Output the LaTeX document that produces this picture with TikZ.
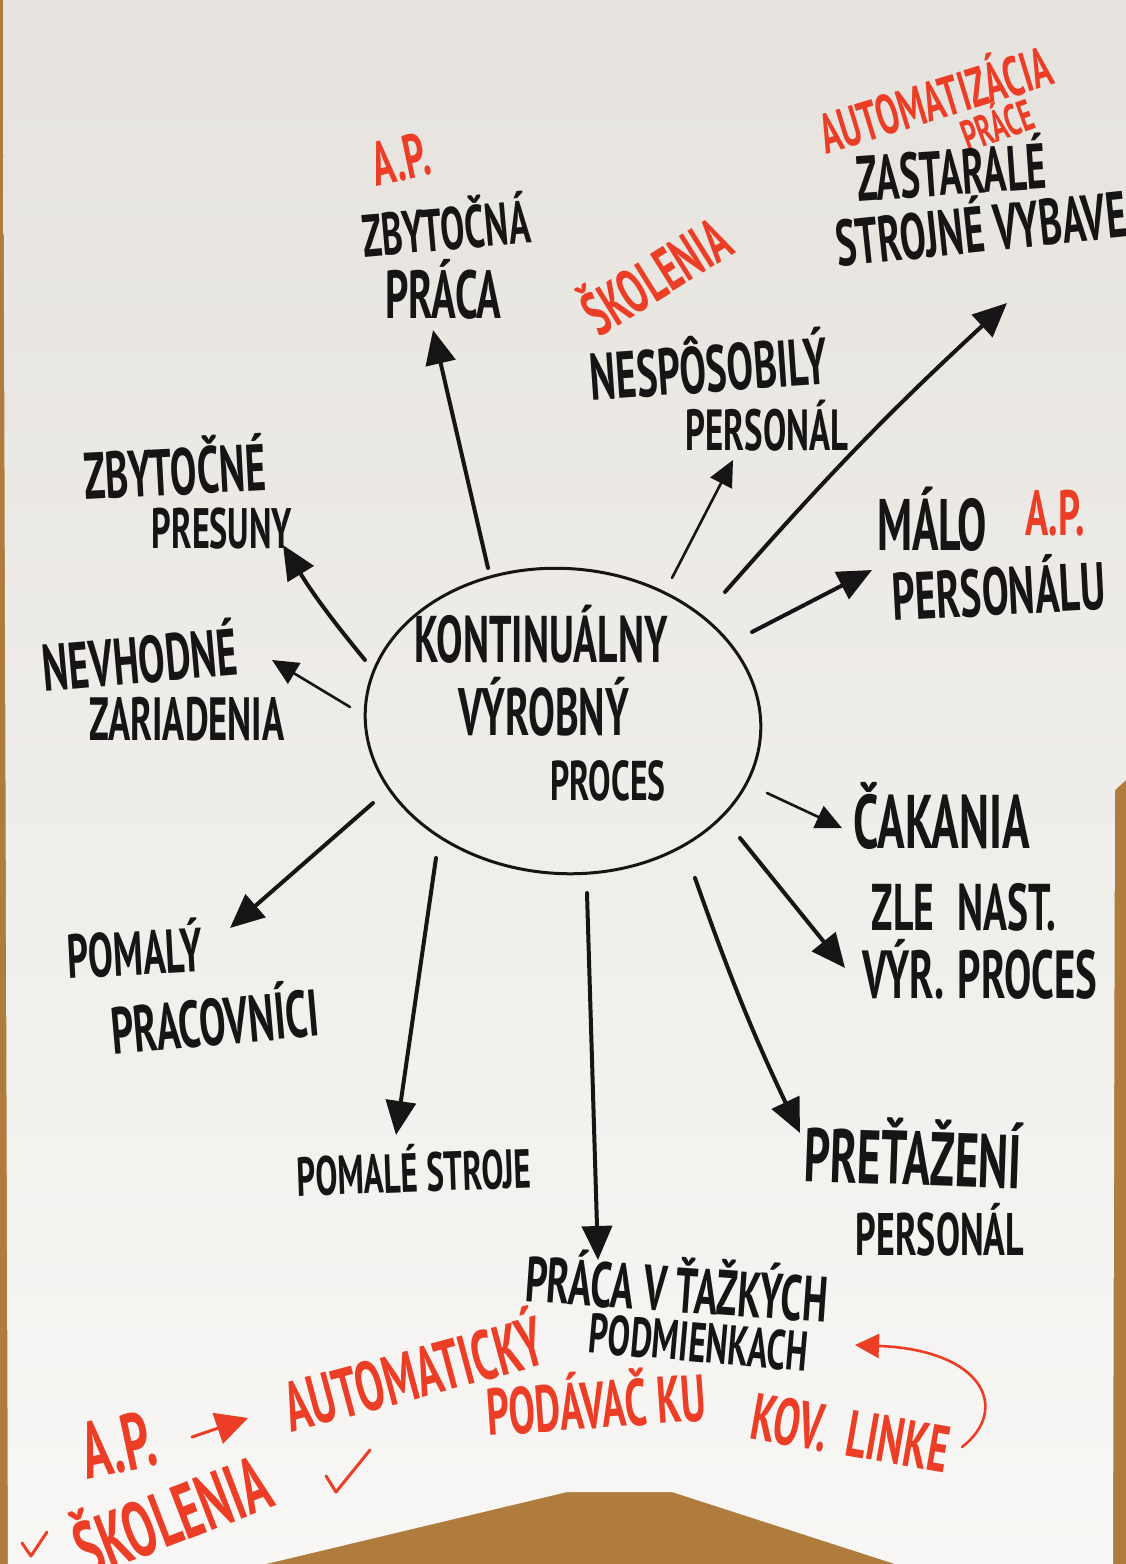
\documentclass[tikz,border=0pt]{standalone}
\usepackage{fontspec}
\newfontfamily\hand[FakeStretch=0.6]{PT Sans}
\usetikzlibrary{arrows.meta,shapes.geometric}
\definecolor{ink}{RGB}{22,20,20}
\definecolor{redink}{RGB}{236,62,38}
\definecolor{wood}{RGB}{176,124,62}
\definecolor{papertop}{RGB}{230,227,222}
\definecolor{paperbot}{RGB}{248,247,245}
\newcommand\fsz[1]{\fontsize{#1}{#1}\selectfont}
\tikzset{
  lbl/.style={inner sep=0pt, anchor=base, text=ink, font=\hand\bfseries\fsz{#1}},
  lbl/.default=62,
  rlbl/.style={lbl=#1, text=redink},
  rlbl/.default=62,
  arr/.style={draw=ink, line width=4pt, line cap=round, -{Triangle[length=34pt,width=30pt]}},
  thinarr/.style={draw=ink, line width=2.6pt, line cap=round, -{Triangle[length=26pt,width=24pt]}},
  redarr/.style={draw=redink, line width=3pt, line cap=round, -{Triangle[length=24pt,width=24pt]}},
}
\begin{document}
\begin{tikzpicture}[x=1pt,y=-1pt]
\useasboundingbox (0,0) rectangle (1126,1564);
% background: wood and paper
\fill[wood] (0,0) rectangle (1126,1564);
\shade[top color=papertop, bottom color=paperbot]
  (3,0) -- (1126,0) -- (1126,780) -- (1115,790) -- (1113,1564) -- (895,1564)
  -- (672,1492) -- (567,1492) -- (266,1564) -- (8,1564) -- cycle;

% centre
\node[draw=ink, line width=3pt, ellipse, minimum width=396pt, minimum height=305pt, rotate=-4] (core) at (563,721) {};
\node[lbl=66] (c1) at (541,662) {KONTINUÁLNY};
\node[lbl=67] (c2) at (544,735) {VÝROBNÝ};
\node[lbl=56] (c3) at (608,800) {PROCES};

% top labels
\node[rlbl=62, rotate=12] (ap1) at (405,180) {A.P.};
\node[lbl=60, rotate=5] (zb1) at (448,250) {ZBYTOČNÁ};
\node[lbl=68] (zb2) at (443,318) {PRÁCA};

\node[rlbl=62, rotate=32] (sk1) at (668,295) {ŠKOLENIA};
\node[lbl=66, rotate=4] (ne1) at (710,392) {NESPÔSOBILÝ};
\node[lbl=58] (ne2) at (767,450) {PERSONÁL};

\node[rlbl=56, rotate=17] (au1) at (941,119) {AUTOMATIZÁCIA};
\node[rlbl=44, rotate=20] (au2) at (1003,140) {PRÁCE};
\node[lbl=64, rotate=4] (za1) at (953,195) {ZASTARALÉ};
\node[lbl=65, rotate=6, anchor=base west] (za2) at (838,267) {STROJNÉ VYBAVE};

\node[lbl=73] (ma1) at (932,550) {MÁLO};
\node[rlbl=64] (ap2) at (1055,535) {A.P.};
\node[lbl=67, rotate=3] (ma2) at (1000,615) {PERSONÁLU};

% left labels
\node[lbl=66, rotate=3] (pr1) at (176,495) {ZBYTOČNÉ};
\node[lbl=57] (pr2) at (222,548) {PRESUNY};
\node[lbl=66, rotate=5] (nv1) at (142,683) {NEVHODNÉ};
\node[lbl=61] (nv2) at (187,740) {ZARIADENIA};
\node[lbl=62, rotate=3] (po1) at (136,975) {POMALÝ};
\node[lbl=66, rotate=5] (po2) at (217,1045) {PRACOVNÍCI};

% right labels
\node[lbl=76] (ca1) at (942,848) {ČAKANIA};
\node[lbl=66] (zl1) at (964,930) {ZLE\hspace{0.35em}NAST.};
\node[lbl=68] (zl2) at (980,998) {VÝR.\hspace{0.2em}PROCES};

% bottom labels
\node[lbl=55, rotate=2] (ps1) at (415,1192) {POMALÉ STROJE};
\node[lbl=64, rotate=-4] (pt1) at (675,1312) {PRÁCA V ŤAŽKÝCH};
\node[lbl=56, rotate=-5] (pt2) at (697,1362) {PODMIENKACH};
\node[lbl=76, rotate=-2] (pe1) at (912,1185) {PREŤAŽENÍ};
\node[lbl=60] (pe2) at (940,1255) {PERSONÁL};

% arrows
\coordinate (s1) at (488,568);  \coordinate (e1) at (433,330);
\coordinate (s2) at (672,578);  \coordinate (e2) at (733,460);
\coordinate (s3) at (725,592);  \coordinate (e3) at (1007,303);
\coordinate (s4) at (752,632);  \coordinate (e4) at (872,570);
\coordinate (s5) at (365,660);  \coordinate (e5) at (283,545);
\coordinate (s6) at (350,707);  \coordinate (e6) at (272,660);
\coordinate (s7) at (767,793);  \coordinate (e7) at (842,828);
\coordinate (s8) at (740,838);  \coordinate (e8) at (845,968);
\coordinate (s9) at (373,803);  \coordinate (e9) at (230,928);
\coordinate (s10) at (436,858); \coordinate (e10) at (396,1135);
\coordinate (s11) at (587,893); \coordinate (e11) at (598,1260);
\coordinate (s12) at (695,878); \coordinate (e12) at (800,1133);

\draw[arr] (s1) -- (e1);
\draw[thinarr] (s2) -- (e2);
\draw[arr] (s3) to[bend left=3] (e3);
\draw[arr] (s4) -- (e4);
\draw[arr] (s5) to[bend left=4] (e5);
\draw[thinarr] (s6) -- (e6);
\draw[thinarr] (s7) -- (e7);
\draw[arr] (s8) -- (e8);
\draw[arr] (s9) -- (e9);
\draw[arr] (s10) -- (e10);
\draw[arr] (s11) -- (e11);
\draw[arr] (s12) to[bend right=3] (e12);

% bottom red notes
\node[rlbl=80, rotate=12] (bap) at (124,1472) {A.P.};
\coordinate (ra1) at (192,1437); \coordinate (ra2) at (248,1418);
\draw[redarr, -{Triangle[length=32pt,width=32pt]}] (ra1) -- (ra2);
\node[rlbl=70, rotate=15] (bau) at (420,1398) {AUTOMATICKÝ};
\node[rlbl=66, rotate=4] (bpo) at (598,1428) {PODÁVAČ KU};
\node[rlbl=66, rotate=-10] (bko) at (847,1456) {KOV.\hspace{0.3em}LINKE};
\coordinate (ca) at (962,1447); \coordinate (cb) at (855,1345);
\draw[redarr, line width=2.6pt] (ca) .. controls (1010,1410) and (985,1350) .. (cb);
\node[rlbl=78, rotate=21] (bsk) at (182,1542) {ŠKOLENIA};
\draw[redink, line width=3pt, line cap=round, line join=round] (22,1543) -- (31,1556) -- (47,1532);
\draw[redink, line width=3pt, line cap=round, line join=round] (326,1476) -- (336,1492) -- (370,1450);
\end{tikzpicture}
\end{document}
